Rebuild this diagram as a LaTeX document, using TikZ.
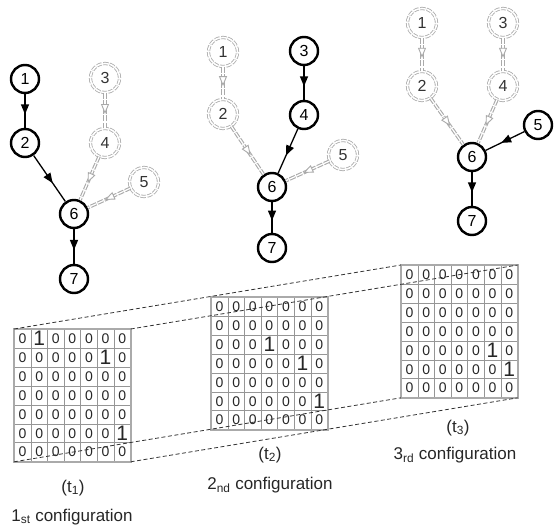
\documentclass[tikz,border=0pt]{standalone}
\usepackage{fontspec}
\setmainfont{Liberation Sans}
\usetikzlibrary{matrix,arrows.meta,decorations.markings,positioning}
\definecolor{idlegray}{RGB}{170,170,170}
\definecolor{gridgray}{RGB}{150,150,150}

\begin{document}
\begin{tikzpicture}[x=1pt, y=-1pt,
        act/.style={draw=black, line width=2.4pt, circle, minimum size=28pt, inner sep=0pt, font=\fontsize{16}{16}\selectfont},
        idle/.style={draw=idlegray, dash pattern=on 5pt off 1.5pt, double, double distance=1.6pt, line width=0.8pt, circle, minimum size=29pt, inner sep=0pt, text=black!80, font=\fontsize{16}{16}\selectfont},
        flow/.style={draw=black, line width=1.3pt, postaction={decorate}, decoration={markings, mark=at position 0.6 with {\arrow{Triangle[length=10pt,width=8pt]}}}},
        ghost/.style={preaction={draw=idlegray, dash pattern=on 6pt off 1.5pt, double, double distance=1.2pt, line width=1.1pt}, postaction={decorate}, decoration={markings, mark=at position 0.6 with {\arrow[idlegray, line width=0.9pt]{Triangle[length=10pt,width=8pt,fill=white]}}}},
        occmat/.style={matrix of nodes, inner sep=0pt, outer sep=0pt, column sep=-0.5pt, row sep=-0.5pt, nodes={draw=gridgray, line width=0.5pt, minimum width=16.6pt, minimum height=18.9pt, inner sep=0pt, anchor=center, text=black!85, font=\fontsize{14}{14}\selectfont}},
        big/.style={font=\fontsize{21}{21}\selectfont},
        frame/.style={draw=idlegray, line width=1.6pt},
        rail/.style={draw=black!80, line width=0.8pt, dash pattern=on 4pt off 2.5pt},
        lbl/.style={font=\fontsize{17}{19}\selectfont, text=black!85}
    ]
        \useasboundingbox (0,0) rectangle (556,529);

        % 1st configuration
        \node[act] (c1n1) at (25,79) {1};
        \node[act] (c1n2) at (25,143) {2};
        \node[idle] (c1n3) at (105,78) {3};
        \node[idle] (c1n4) at (105,143) {4};
        \node[idle] (c1n5) at (144,182) {5};
        \node[act] (c1n6) at (74,214) {6};
        \node[act] (c1n7) at (74,279) {7};
        \draw[flow] (c1n1) -- (c1n2);
        \draw[flow] (c1n2) -- (c1n6);
        \draw[flow] (c1n6) -- (c1n7);
        \path[ghost] (c1n3) -- (c1n4);
        \path[ghost] (c1n4) -- (c1n6);
        \path[ghost] (c1n5) -- (c1n6);

        % 2nd configuration
        \node[idle] (c2n1) at (223,52) {1};
        \node[idle] (c2n2) at (223,114) {2};
        \node[act] (c2n3) at (304,51) {3};
        \node[act] (c2n4) at (304,115) {4};
        \node[idle] (c2n5) at (343,155) {5};
        \node[act] (c2n6) at (272,187) {6};
        \node[act] (c2n7) at (272,248) {7};
        \path[ghost] (c2n1) -- (c2n2);
        \path[ghost] (c2n2) -- (c2n6);
        \draw[flow] (c2n3) -- (c2n4);
        \draw[flow] (c2n4) -- (c2n6);
        \path[ghost] (c2n5) -- (c2n6);
        \draw[flow] (c2n6) -- (c2n7);

        % 3rd configuration
        \node[idle] (c3n1) at (422,23) {1};
        \node[idle] (c3n2) at (422,86) {2};
        \node[idle] (c3n3) at (503,23) {3};
        \node[idle] (c3n4) at (503,86) {4};
        \node[act] (c3n5) at (538,125) {5};
        \node[act] (c3n6) at (472,157) {6};
        \node[act] (c3n7) at (472,221) {7};
        \path[ghost] (c3n1) -- (c3n2);
        \path[ghost] (c3n2) -- (c3n6);
        \path[ghost] (c3n3) -- (c3n4);
        \path[ghost] (c3n4) -- (c3n6);
        \draw[flow] (c3n5) -- (c3n6);
        \draw[flow] (c3n6) -- (c3n7);

        % Matrices
        \matrix (mOne) [occmat, anchor=north west] at (14,329) {
            0 & |[big]| 1 & 0 & 0 & 0 & 0 & 0 \\
            0 & 0 & 0 & 0 & 0 & |[big]| 1 & 0 \\
            0 & 0 & 0 & 0 & 0 & 0 & 0 \\
            0 & 0 & 0 & 0 & 0 & 0 & 0 \\
            0 & 0 & 0 & 0 & 0 & 0 & 0 \\
            0 & 0 & 0 & 0 & 0 & 0 & |[big]| 1 \\
            0 & 0 & 0 & 0 & 0 & 0 & 0 \\
        };
        \matrix (mTwo) [occmat, anchor=north west] at (211,297) {
            0 & 0 & 0 & 0 & 0 & 0 & 0 \\
            0 & 0 & 0 & 0 & 0 & 0 & 0 \\
            0 & 0 & 0 & |[big]| 1 & 0 & 0 & 0 \\
            0 & 0 & 0 & 0 & 0 & |[big]| 1 & 0 \\
            0 & 0 & 0 & 0 & 0 & 0 & 0 \\
            0 & 0 & 0 & 0 & 0 & 0 & |[big]| 1 \\
            0 & 0 & 0 & 0 & 0 & 0 & 0 \\
        };
        \matrix (mThree) [occmat, anchor=north west] at (401,265) {
            0 & 0 & 0 & 0 & 0 & 0 & 0 \\
            0 & 0 & 0 & 0 & 0 & 0 & 0 \\
            0 & 0 & 0 & 0 & 0 & 0 & 0 \\
            0 & 0 & 0 & 0 & 0 & 0 & 0 \\
            0 & 0 & 0 & 0 & 0 & |[big]| 1 & 0 \\
            0 & 0 & 0 & 0 & 0 & 0 & |[big]| 1 \\
            0 & 0 & 0 & 0 & 0 & 0 & 0 \\
        };
        \draw[frame] (mOne.north west) rectangle (mOne.south east);
        \draw[frame] (mTwo.north west) rectangle (mTwo.south east);
        \draw[frame] (mThree.north west) rectangle (mThree.south east);

        % Perspective rails
        \draw[rail] (mOne.north west) -- (mThree.north west);
        \draw[rail] (mOne.north east) -- (mThree.north east);
        \draw[rail] (mOne.south west) -- (mThree.south west);
        \draw[rail] (mOne.south east) -- (mThree.south east);

        % Labels
        \node[lbl] (tOne) at (73,488) {(t\textsubscript{1})};
        \node[lbl] (tTwo) at (270,455) {(t\textsubscript{2})};
        \node[lbl] (tThree) at (458,428) {(t\textsubscript{3})};
        \node[lbl] (cfgOne) at (72,517) {1\textsubscript{st} configuration};
        \node[lbl] (cfgTwo) at (270,485) {2\textsubscript{nd} configuration};
        \node[lbl] (cfgThree) at (455,455) {3\textsubscript{rd} configuration};
    \end{tikzpicture}
\end{document}
